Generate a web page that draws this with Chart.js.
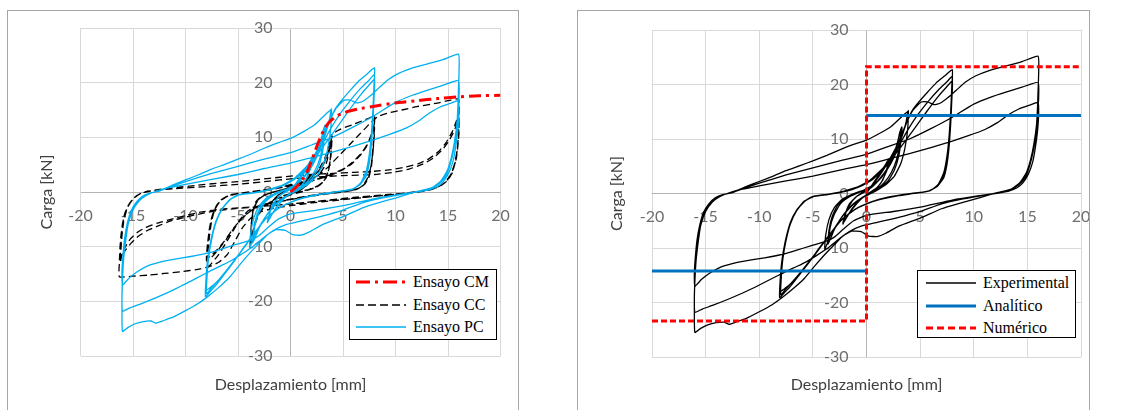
<!DOCTYPE html>
<html lang="es">
<head>
<meta charset="utf-8">
<title>Carga vs desplazamiento</title>
<script src="https://cdn.jsdelivr.net/npm/chart.js@4.4.1/dist/chart.umd.min.js"></script>
<style>
  html, body { margin: 0; padding: 0; background: #fff; width: 1128px; height: 410px; overflow: hidden; }
  .panel { position: absolute; top: 10px; height: 420px; border: 1px solid #a6a6a6; box-sizing: border-box; background: #fff; }
  #panelL { left: 7px; width: 512px; }
  #panelR { left: 577px; width: 513px; }
  .wrap { position: absolute; left: 0; top: 0; height: 399px; }
  #panelL .wrap { width: 510px; }
  #panelR .wrap { width: 511px; }
  .legend { position: absolute; background: #fff; border: 1.5px solid #000; box-sizing: border-box;
            font-family: "Liberation Serif", "Times New Roman", serif; font-size: 16px; color: #000; padding-top: 1px; }
  .legend .row { height: 22.5px; display: flex; align-items: center; white-space: nowrap; }
  .legend svg { flex: none; margin-right: 7px; }
  #legendL { left: 349px; top: 269px; width: 148px; height: 71px; }
  #legendL .row { padding-left: 6px; }
  #legendR { left: 917px; top: 270px; width: 159px; height: 68px; }
  #legendR .row { padding-left: 8px; }
</style>
</head>
<body>
<div class="panel" id="panelL"><div class="wrap"><canvas id="chartL"></canvas></div></div>
<div class="panel" id="panelR"><div class="wrap"><canvas id="chartR"></canvas></div></div>
<div class="legend" id="legendL"></div>
<div class="legend" id="legendR"></div>

<script>
/* ============================================================
   CARGA vs DESPLAZAMIENTO — two hysteresis panels
   ============================================================ */

/* ── Axis ticks ── */
const X_TICKS = [-20, -15, -10, -5, 0, 5, 10, 15, 20];
const Y_TICKS = [-30, -20, -10, 0, 10, 20, 30];

/* ── Ensayo CM (monotonic) ── [mm, kN] */
const CM_PTS = [
  [0,0],[0.6,1],[1.2,2.4],[1.7,4.2],[2.1,6.2],[2.5,8.3],[2.9,10.2],[3.3,11.8],[3.8,13],[4.5,14],
  [5.4,14.7],[6.5,15.2],[8,15.7],[10,16.3],[12,16.7],[14,17.1],[16,17.4],[18,17.6],[20,17.7]
];

/* ── Ensayo CC (cyclic) ── */
const CC_PTS = [
  [0,0],[0.7,0.9],[1.4,1.9],[2,3],[1.8,1.8],[1.2,0.6],[0.4,-0.2],[-0.6,-1],[-1.4,-2],[-2,-3.2],
  [-1.8,-1.9],[-1.2,-0.6],[-0.4,0.3],[0.6,1.1],[1.4,2.1],[2,3.2],[1.7,1.6],[1,0.4],[0,-0.4],[-1,-1.4],
  [-2,-3.3],[-1.7,-1.6],[-1,-0.3],[0,0.6],
  [1,1.4],[2,2.8],[2.8,4.5],[3.4,6.8],[3.7,8.8],[3.9,10.5],[3.85,7.5],[3.7,4.6],[3.4,2.6],[2.8,1.3],
  [1.8,0.5],[0.6,0],[-0.6,-0.6],[-1.6,-1.4],[-2.5,-2.6],[-3.1,-4.2],[-3.5,-6.4],[-3.8,-9.4],
  [-3.75,-6.2],[-3.6,-3.6],[-3.3,-1.8],[-2.8,-0.8],[-1.8,-0.1],[-0.6,0.5],[0.6,1.2],[1.8,2.4],[2.8,4],
  [3.4,6],[3.8,8.5],[3.95,9.8],[3.85,6.6],[3.6,3.8],[3.2,2],[2.5,0.9],[1.4,0.2],[0.2,-0.4],[-1,-1],
  [-2,-2],[-2.8,-3.4],[-3.3,-5.4],[-3.7,-8.3],[-3.8,-9],[-3.7,-5.6],[-3.5,-3.2],[-3.1,-1.5],[-2.5,-0.6],
  [-1.4,0.1],[-0.2,0.7],[1,1.5],[2.1,2.8],[3,4.6],[3.5,6.8],[3.9,9.2],[3.8,6],[3.5,3.4],[3,1.7],
  [2.2,0.7],[1,0],[-0.2,-0.6],[-1.4,-1.3],[-2.4,-2.4],[-3.1,-4.2],[-3.5,-6.6],[-3.8,-8.6],[-3.7,-5.2],
  [-3.5,-2.9],[-3,-1.3],[-2.3,-0.4],[-1,0.3],
  [0.4,0.9],[1.8,2],[2.8,3.4],[3.4,5.2],[3.7,7.6],[3.9,9.8],[4.3,11],[5,11.7],[5.9,12.3],[6.8,13],
  [7.5,13.5],[8,14],[7.95,11],[7.85,8],[7.7,5.2],[7.5,3],[7.1,1.5],[6.4,0.6],[5.3,0.2],[3.8,-0.1],
  [2,-0.6],[0,-1.3],[-1.8,-1.9],[-3,-2.5],[-4,-3.4],[-4.8,-5],[-5.5,-7.2],[-6.2,-9.5],[-6.9,-11.6],
  [-7.5,-13],[-7.9,-13.7],[-7.85,-10.8],[-7.7,-7.8],[-7.5,-5.2],[-7.2,-3.2],[-6.7,-1.7],[-6,-0.8],
  [-5,-0.3],[-3.5,0],[-2,0.4],[0,1.1],[2,2],[3.6,2.9],[4.8,3.9],[5.8,5.1],[6.6,6.6],[7.2,8.2],
  [7.6,10],[7.9,11.8],[8,12.6],[7.95,10],[7.85,7.2],[7.7,4.6],[7.45,2.6],[7,1.3],[6.3,0.5],[5.1,0.1],
  [3.5,-0.3],[1.6,-0.8],[-0.4,-1.5],[-2.2,-2.2],[-3.4,-3],[-4.4,-4.4],[-5.3,-6.4],[-6.1,-8.6],
  [-6.9,-10.6],[-7.5,-11.9],[-8,-12.6],[-7.9,-9.8],[-7.75,-7],[-7.5,-4.6],[-7.1,-2.7],[-6.6,-1.4],
  [-5.8,-0.6],[-4.6,-0.2],[-3,0.2],[-1.2,0.8],[0.8,1.6],[2.6,2.4],[4,3.3],[5.2,4.4],[6.1,5.8],
  [6.8,7.2],[7.4,9],[7.8,10.8],[8,11.8],[7.95,9.4],[7.8,6.6],[7.6,4.2],[7.3,2.4],[6.9,1.2],[6.2,0.4],
  [5,0],[3.3,-0.4],[1.4,-0.9],[-0.6,-1.6],[-2.4,-2.3],[-3.6,-3.2],[-4.6,-4.8],[-5.5,-6.8],[-6.3,-9],
  [-7.1,-10.8],[-7.7,-11.8],[-8,-12.2],[-7.9,-9.4],[-7.7,-6.6],[-7.45,-4.3],[-7.05,-2.5],[-6.5,-1.3],
  [-5.7,-0.5],[-4.4,-0.1],[-2.8,0.3],[-1,0.9],
  [1,1.8],[2.6,3],[3.6,4.6],[4.6,6.6],[5.6,8.6],[6.6,10.6],[7.5,12.4],[8.3,13.8],[9.2,14.4],[10.6,15],
  [12,15.6],[13.8,16.2],[15,16.7],[16,17],[16.05,14],[16,11],[15.9,8],[15.7,5.5],[15.4,3.5],[14.9,2],
  [14.2,1],[13.2,0.4],[11.8,0],[10,-0.4],[8,-0.8],[6,-1.2],[4,-1.6],[2,-2],[0,-2.5],[-1.6,-3],
  [-2.8,-3.6],[-3.8,-4.8],[-4.6,-6.6],[-5.3,-9],[-6,-11.4],[-6.8,-12.8],[-7.8,-13.7],[-9,-14.2],
  [-10.5,-14.6],[-12,-14.9],[-13.5,-15.2],[-15,-15.4],[-16.3,-15.5],[-16.3,-13],[-16.25,-10.5],
  [-16.15,-8],[-16,-5.8],[-15.8,-4],[-15.5,-2.6],[-15.1,-1.5],[-14.6,-0.6],[-14,-0.1],[-12.8,0.4],
  [-11,0.8],[-9,1.2],[-7,1.6],[-5,1.9],[-3,2.3],[-1,2.7],[0,2.9],[2,3.2],[4,3.4],[6,3.6],[8,3.8],
  [9.6,4.1],[11,4.6],[12.2,5.2],[13.2,6.1],[14.1,7.4],[14.8,9],[15.4,11],[15.8,13],[16,14.6],
  [16.05,12.5],[16,10],[15.85,7.4],[15.6,5],[15.2,3],[14.6,1.6],[13.8,0.7],[12.8,0.2],[11.2,-0.2],
  [9,-0.5],[6,-1],[3,-1.6],[0,-2.2],[-2.5,-2.6],[-5,-2.9],[-7,-3.2],[-8.6,-3.7],[-10,-4.3],
  [-11.4,-5],[-12.7,-5.7],[-13.8,-6.5],[-14.6,-7.4],[-15.3,-8.7],[-15.8,-10.3],[-16.1,-11.8],
  [-16.2,-13],[-16.15,-10.5],[-16.05,-8],[-15.9,-5.6],[-15.65,-3.6],[-15.3,-2],[-14.8,-0.9],
  [-14.2,-0.2],[-13,0.3],[-11,0.6],[-8,1],[-5,1.4],[-2,2],[0,2.4],[2,2.7],[5,3],[8,3.2],[9.8,3.6],
  [11.3,4.2],[12.6,5.1],[13.6,6.2],[14.4,7.6],[15,9.1],[15.5,10.8],[15.8,12.2],[16,13.2],[16.05,11],
  [15.95,8.6],[15.8,6.2],[15.5,4.2],[15.1,2.6],[14.5,1.4],[13.7,0.6],[12.6,0.1],[11,-0.3],[8,-0.8],
  [5,-1.3],[2,-1.8],[0,-2.2],[-2.5,-2.6],[-5,-3],[-7,-3.4],[-8.6,-4],[-10,-4.6],[-11.4,-5.3],
  [-12.6,-6.2],[-13.6,-7],[-14.5,-8.1],[-15.2,-9.4],[-15.7,-10.6],[-16.1,-11.8],[-16.2,-12.2],
  [-16.15,-9.6],[-16.05,-7.2],[-15.9,-5],[-15.6,-3.2],[-15.2,-1.8],[-14.7,-0.8],[-14.1,-0.1],[-13.5,0.2]
];

/* ── Ensayo PC / Experimental (same test, both panels) ── */
const PC_PTS = [
  [0,0],[0.6,1.8],[1.2,3.6],[1.8,5.4],[2.1,6.4],[1.9,4.6],[1.5,2.4],[0.9,0.9],[0.2,0.1],[-0.6,-1.2],
  [-1.3,-2.8],[-2,-4.8],[-2.2,-5.6],[-2,-3.9],[-1.6,-1.9],[-0.9,-0.5],[0,0.5],[0.9,2.4],[1.6,4.4],
  [2.1,6.1],[1.9,4.2],[1.3,1.8],[0.5,0.3],[-0.4,-0.8],[-1.4,-2.9],[-2.1,-5.2],[-1.9,-3.4],[-1.3,-1.3],
  [-0.5,0.1],
  [0.4,1],[1.2,2.6],[2,4.6],[2.6,6.8],[3,8.8],[3.4,11],[3.7,13.2],[3.9,15.2],[3.85,12],[3.6,8.5],
  [3.2,5.5],[2.6,3.2],[1.8,1.6],[0.8,0.4],[-0.2,-0.6],[-1.1,-1.8],[-2,-3.6],[-2.8,-5.8],[-3.4,-7.8],
  [-3.9,-10.3],[-3.8,-7.6],[-3.5,-4.8],[-3,-2.6],[-2.3,-1.1],[-1.3,-0.1],[-0.3,0.6],[0.8,1.8],
  [1.7,3.8],[2.4,6.2],[2.8,8.5],[3.1,11.2],[3.3,12.2],[3.2,9.5],[3,6.8],[2.6,4.3],[2,2.3],[1,0.8],
  [0,-0.3],[-1,-1.6],[-2,-3.5],[-2.9,-6.2],[-3.6,-9.3],[-3.5,-6.8],[-3.2,-4.2],[-2.7,-2.2],[-2,-0.9],
  [-1,0.1],[0,0.8],[1,2.2],[1.9,4.5],[2.6,7.5],[3,10.2],[3.2,11.8],[3.1,9],[2.8,6.2],[2.3,3.8],
  [1.6,1.9],[0.7,0.5],[-0.3,-0.6],[-1.3,-2],[-2.2,-4],[-3,-6.6],[-3.5,-8.9],[-3.4,-6.3],[-3,-3.8],
  [-2.4,-1.8],[-1.5,-0.5],[-0.5,0.4],
  [0.5,1.2],[1.5,3.2],[2.4,6],[3.1,9.4],[3.7,12.8],[4.2,15],[4.8,16.6],[5.6,18.4],[6.5,20.3],
  [7.3,21.6],[8,22.7],[7.95,19.5],[7.85,15],[7.7,10.5],[7.5,6.8],[7.2,3.8],[6.7,1.7],[6,0.6],
  [4.8,0.1],[3,-0.4],[1.5,-1],[0,-1.9],[-1.3,-3.2],[-2.4,-5],[-3.4,-7.4],[-4.4,-10],[-5.3,-12.5],
  [-6.2,-14.8],[-7,-16.8],[-7.6,-18.1],[-8.1,-19.1],[-8.05,-16],[-7.9,-12.5],[-7.6,-9],[-7.2,-6],
  [-6.6,-3.4],[-5.9,-1.6],[-5.1,-0.6],[-3.8,-0.2],[-2.4,0.2],[-1,1],
  [0.3,2.4],[1.6,4.8],[2.8,8],[3.8,11.5],[4.8,14.5],[5.8,17],[6.7,19],[7.5,20.5],[8,21.5],
  [7.95,18],[7.85,13.5],[7.7,9.2],[7.5,5.8],[7.2,3.2],[6.7,1.5],[5.9,0.5],[4.5,0.1],[2.5,-0.5],
  [0.8,-1.3],[-0.8,-2.6],[-2.2,-4.6],[-3.4,-7.4],[-4.6,-10.6],[-5.8,-13.6],[-6.9,-16.2],[-7.6,-17.7],
  [-8,-18.6],[-7.95,-15.5],[-7.8,-12],[-7.5,-8.6],[-7.1,-5.6],[-6.5,-3.1],[-5.8,-1.5],[-5,-0.6],
  [-3.6,-0.2],[-2.2,0.3],[-0.8,1.1],
  [0.6,2.6],[2,5.4],[3.3,8.8],[4.5,12],[5.6,15],[6.6,17.6],[7.4,19.4],[8,20.6],[7.95,17],[7.85,12.8],
  [7.7,8.6],[7.5,5.3],[7.2,2.9],[6.6,1.3],[5.7,0.4],[4.2,0],[2.2,-0.6],[0.5,-1.5],[-1,-2.8],[-2.4,-5],
  [-3.6,-8],[-4.8,-11.2],[-6,-14.2],[-7,-16.4],[-7.6,-17.4],[-8,-17.9],[-7.95,-14.8],[-7.8,-11.4],
  [-7.5,-8.2],[-7.1,-5.3],[-6.5,-3],[-5.8,-1.4],[-4.9,-0.5],[-3.5,-0.1],[-2,0.5],
  [-0.6,1.4],[0.6,2.8],[1.8,5.2],[2.8,8.6],[3.6,12.4],[4.3,15.2],[5.1,16.8],[5.7,16.8],[6.3,16.3],
  [6.9,16.6],[7.6,17.6],[8.4,19],[9.2,20.4],[10.2,21.6],[11.5,22.6],[13,23.4],[14.5,24.2],[16,25.2],
  [16.05,22],[16,19],[15.95,16],[15.85,12.5],[15.6,9],[15.3,6.2],[14.9,3.8],[14.3,2],[13.5,0.8],
  [12.5,0.3],[11.5,-0.2],[10,-1.1],[8.5,-1.9],[7,-2.8],[5,-4.5],[3,-6],[1.8,-7.3],[1,-7.9],[0.2,-7.8],
  [-0.5,-7],[-1.4,-6.9],[-2.2,-7.8],[-3,-9.4],[-3.8,-11],[-4.7,-13],[-5.8,-15.6],[-6.8,-17.4],
  [-7.8,-19],[-8.8,-20.4],[-10,-21.7],[-11.2,-22.9],[-12.2,-23.6],[-12.8,-24],[-13.3,-23.6],[-14,-23.7],
  [-14.8,-24.1],[-15.5,-24.8],[-16,-25.5],[-16.05,-22.5],[-16.05,-19],[-16,-15.5],[-15.9,-12],
  [-15.75,-8.5],[-15.5,-5.5],[-15.1,-3.2],[-14.6,-1.7],[-14,-0.8],[-13.3,-0.2],[-12.6,0.1],
  [-11.5,0.9],[-10,1.9],[-7.5,3.4],[-5,4.7],[-2.5,6],[0,7.2],[2,8.6],[4,10],[6,11.9],[8,14],[10,16.4],
  [11.6,17.7],[13,18.6],[14.5,19.5],[16,20.4],[16.05,17.5],[15.95,14.5],[15.8,11],[15.55,7.8],
  [15.2,5],[14.8,3],[14.2,1.6],[13.4,0.7],[12.4,0.2],[11,-0.3],[9,-1],[7,-1.9],[5,-3.3],[3,-4.4],
  [1,-5.3],[-0.5,-6],[-1.6,-7],[-2.6,-8.4],[-3.6,-10],[-4.6,-11.3],[-5.5,-12.4],[-6.4,-13.3],
  [-7.4,-14.2],[-8.3,-15.1],[-9.4,-16.2],[-10.4,-17.2],[-11.6,-18.3],[-12.9,-19.4],[-14.3,-20.5],
  [-15.3,-21.2],[-16,-21.8],[-16.05,-19],[-16,-16],[-15.9,-12.5],[-15.7,-9],[-15.45,-5.8],[-15,-3.3],
  [-14.4,-1.6],[-13.7,-0.6],[-13,0],
  [-12,0.6],[-10,1.4],[-7.5,2.3],[-5,3.2],[-2.5,4.3],[0,5.3],[2,6.3],[4,7.3],[6,8.4],[8,9.6],
  [9.5,10.6],[11,11.7],[12.2,13],[13.2,14.4],[14.2,15.5],[15.2,16.2],[16,16.7],[16.05,14.5],
  [15.95,11.5],[15.75,8.5],[15.5,5.8],[15.1,3.6],[14.6,2],[14,1],[13.2,0.4],[12,0],[10.5,-0.4],
  [8,-1.2],[5,-2.5],[2.5,-3.3],[0,-4],[-1.2,-5],[-2.2,-6.6],[-3,-8],[-3.8,-8.8],[-5.2,-9.6],
  [-6.5,-10.4],[-7.7,-11.1],[-9.5,-11.8],[-11.4,-12.4],[-12.6,-12.9],[-13.6,-13.5],[-14.6,-14.6],
  [-15.4,-15.8],[-16,-17],[-16.05,-14.5],[-15.95,-11.5],[-15.8,-8.5],[-15.55,-5.8],[-15.2,-3.5],
  [-14.7,-1.9],[-14.1,-0.8],[-13.4,-0.2],[-12.6,0.1],
  [-11.3,1.2],[-10,2.2],[-8.7,3.2],[-7.5,4.2],[-6.2,5.1],[-5,6],[-3.7,7],[-2.5,8],[-1.2,9],[0,9.8],
  [1.2,11],[2.3,12.3],[3.4,14.3],[3.9,15.1]
];

/* ── Analítico / Numérico models ── */
const ANA_PTS = [[-20,-14.2],[0,-14.2],[0,null],[0,14.3],[20,14.3]];
const NUM_PTS = [[-20,-23.4],[0,-23.4],[0,23.25],[20,23.25]];

/* ── Shared look ── */
const TICK_FONT = { family: 'Lato, "Open Sans", sans-serif', size: 16 };
const TITLE_FONT = { family: 'Lato, "Open Sans", sans-serif', size: 16 };
const GRID = ctx => (ctx.tick && ctx.tick.value === 0) ? '#b3b3b3' : '#d9d9d9';

const toXY = pts => pts.map(p => ({ x: p[0], y: p[1] }));
// centre axes must not push the plot area around
const noPad = s => { s.paddingTop = 0; s.paddingBottom = 0; s.paddingLeft = 0; s.paddingRight = 0; };

function line(label, pts, color, width, dash, order) {
  return {
    label, data: toXY(pts), showLine: true, fill: false,
    borderColor: color, backgroundColor: color, borderWidth: width,
    borderDash: dash, pointRadius: 0, tension: 0.15, order
  };
}

function buildScales(pad) {
  return {
    x: {
      type: 'linear', min: -20, max: 20, position: 'bottom',
      afterBuildTicks: s => { s.ticks = X_TICKS.map(v => ({ value: v })); },
      ticks: { display: false },
      grid: { color: GRID, drawTicks: false },
      border: { display: false },
      title: { display: true, text: 'Desplazamiento [mm]', color: '#404040', font: TITLE_FONT,
               padding: { top: pad.xTop, bottom: 16 } }
    },
    y: {
      type: 'linear', min: -30, max: 30, position: 'left',
      afterBuildTicks: s => { s.ticks = Y_TICKS.map(v => ({ value: v })); },
      ticks: { display: false },
      grid: { color: GRID, drawTicks: false },
      border: { display: false },
      title: { display: true, text: 'Carga [kN]', color: '#404040', font: TITLE_FONT,
               padding: { top: 29.4, bottom: pad.yBottom } }
    },
    xc: {
      type: 'linear', axis: 'x', min: -20, max: 20, position: 'center',
      afterBuildTicks: s => { s.ticks = X_TICKS.map(v => ({ value: v })); },
      afterFit: noPad,
      ticks: { color: '#6e6e6e', font: TICK_FONT, padding: 14, maxRotation: 0 },
      grid: { display: false, drawTicks: false },
      border: { display: false }
    },
    yc: {
      type: 'linear', axis: 'y', min: -30, max: 30, position: 'center',
      afterBuildTicks: s => { s.ticks = Y_TICKS.map(v => ({ value: v })); },
      afterFit: noPad,
      ticks: { color: '#6e6e6e', font: TICK_FONT, padding: 18 },
      grid: { display: false, drawTicks: false },
      border: { display: false }
    }
  };
}

function makeChart(id, datasets, pad) {
  return new Chart(document.getElementById(id), {
    type: 'scatter',
    data: { datasets },
    options: {
      responsive: true,
      maintainAspectRatio: false,
      animation: false,
      events: [],
      layout: { autoPadding: false, padding: { left: 0, top: pad.top, right: pad.right, bottom: 0 } },
      plugins: { legend: { display: false }, tooltip: { enabled: false } },
      scales: buildScales(pad)
    }
  });
}

/* ── HTML legend boxes ── */
function buildLegend(elId, datasets) {
  const box = document.getElementById(elId);
  datasets.forEach(ds => {
    const row = document.createElement('div');
    row.className = 'row';
    const dash = ds.legendDash ? ` stroke-dasharray="${ds.legendDash.join(',')}"` : '';
    row.innerHTML =
      `<svg width="50" height="10"><line x1="0" y1="5" x2="50" y2="5" stroke="${ds.borderColor}"` +
      ` stroke-width="${ds.borderWidth}"${dash}/></svg><span>${ds.label}</span>`;
    box.appendChild(row);
  });
}

document.addEventListener('DOMContentLoaded', () => {
  const cm = line('Ensayo CM', CM_PTS, '#ff0000', 3, [12, 5, 3, 5], 0);
  const cc = line('Ensayo CC', CC_PTS, '#000000', 1.3, [7, 4], 2);
  const pc = line('Ensayo PC', PC_PTS, '#00b0f0', 1.3, [], 1);
  cm.legendDash = [14, 5, 3, 5]; cc.legendDash = [8, 4];
  const left = [cm, cc, pc];

  const ex = line('Experimental', PC_PTS, '#000000', 1.3, [], 2);
  const an = line('Analítico', ANA_PTS, '#0070c0', 3, [], 1);
  const nu = line('Numérico', NUM_PTS, '#ff0000', 3, [6, 3], 0);
  an.tension = 0; nu.tension = 0;
  nu.legendDash = [7, 4];
  const right = [ex, an, nu];

  makeChart('chartL', left, { top: 17, right: 17.5, xTop: 18.8, yBottom: 23.9 });
  makeChart('chartR', right, { top: 19, right: 8, xTop: 17.8, yBottom: 25.4 });
  buildLegend('legendL', left);
  buildLegend('legendR', right);
});
</script>
</body>
</html>
